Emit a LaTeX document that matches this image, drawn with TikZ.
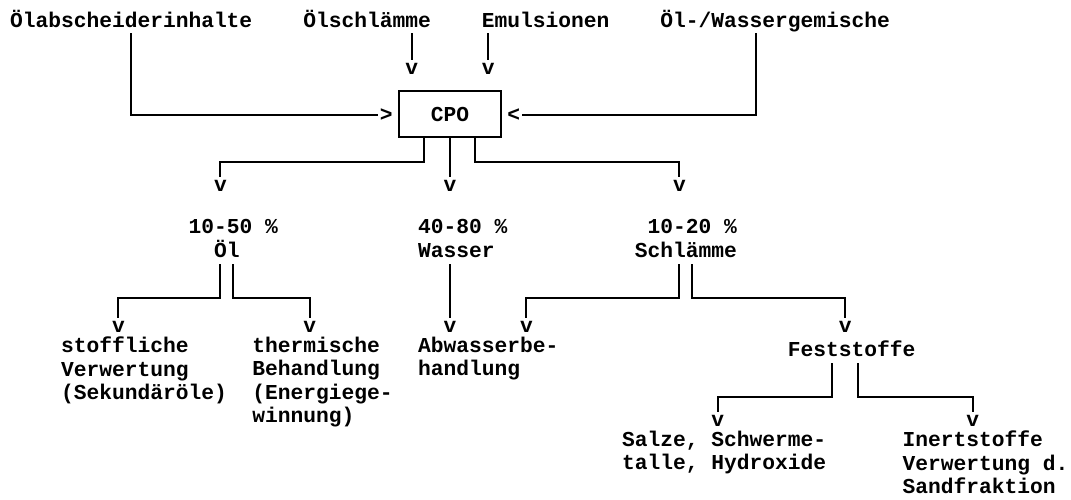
\documentclass[tikz,border=0pt]{standalone}
\usepackage{fontspec}
\newfontfamily\twfam{Liberation Mono}
\newcommand\twfont{\twfam\bfseries\fontsize{21.25pt}{23.5pt}\selectfont\frenchspacing}
\newcommand\myst{\rule{0pt}{19pt}}
\usetikzlibrary{calc}
\begin{document}
\begin{tikzpicture}[x=1pt,y=-1pt,
  txt/.style={font=\twfont, inner sep=0pt, outer sep=0pt, anchor=north west, align=left, execute at begin node=\myst},
  glyph/.style={font=\twfont, inner sep=0pt, outer sep=0pt, anchor=base},
  ln/.style={line width=1.9pt},
  toarr/.style={ln, shorten >=3pt}]
\useasboundingbox[fill=white] (0,0) rectangle (1071,499);

% top row
\node[txt] (ola) at (10,8) {Ölabscheiderinhalte};
\node[txt] (osl) at (303.25,8) {Ölschlämme};
\node[txt] (emu) at (481.75,8) {Emulsionen};
\node[txt] (owg) at (660.25,8) {Öl-/Wassergemische};

\node[glyph] (vosl) at (411.625,74) {v};
\node[glyph] (vemu) at (488.125,74) {v};
\node[glyph] (gt) at (386.125,121) {>};
\node[glyph] (lt) at (513.625,121) {<};
\node[draw, line width=1.9pt, font=\twfont, minimum width=102pt, minimum height=46pt, inner sep=0pt] (cpo) at (449.875,114) {CPO};

\draw[toarr] ($(osl.base west)+(108.375,6)$) -- (vosl.north);
\draw[toarr] ($(emu.base west)+(6.375,6)$) -- (vemu.north);
\draw[ln, shorten >=2pt] ($(ola.base west)+(121.125,6)$) |- (gt.west);
\draw[ln, shorten >=2pt] ($(owg.base west)+(95.625,6)$) |- (lt.east);

% CPO outputs
\node[glyph] (v1) at (220.375,191.5) {v};
\node[glyph] (v2) at (449.875,191.5) {v};
\node[glyph] (v3) at (679.375,191.5) {v};
\draw[toarr] ([xshift=-25.5pt]cpo.south) -- ++(0,24.25) -| (v1.north);
\draw[toarr] (cpo.south) -- (v2.north);
\draw[toarr] ([xshift=25.5pt]cpo.south) -- ++(0,24.25) -| (v3.north);

% fractions
\node[txt] (poel) at (188.5,219.5) {10-50 \%\\\hspace*{25.5pt}Öl};
\node[txt] (pwas) at (418,219.5) {40-80 \%\\Wasser};
\node[txt] (psch) at (634.75,219.5) {\hspace*{12.75pt}10-20 \%\\Schlämme};

\node[glyph] (v4) at (118.375,332.5) {v};
\node[glyph] (v5) at (309.625,332.5) {v};
\node[glyph] (v6) at (449.875,332.5) {v};
\node[glyph] (v7) at (526.375,332.5) {v};
\node[glyph] (v8) at (845.125,332.5) {v};
\draw[toarr] ($(poel.south west)+(31.875,7)$) -- ++(0,34) -| (v4.north);
\draw[toarr] ($(poel.south west)+(44.625,7)$) -- ++(0,34) -| (v5.north);
\draw[toarr] ($(pwas.south west)+(31.875,7)$) -- (v6.north);
\draw[toarr] ($(psch.south west)+(44.625,7)$) -- ++(0,34) -| (v7.north);
\draw[toarr] ($(psch.south west)+(57.375,7)$) -- ++(0,34) -| (v8.north);

% uses
\node[txt] (stoff) at (61,337) {stoffliche\\Verwertung\\(Sekundäröle)};
\node[txt] (therm) at (252.25,337) {thermische\\Behandlung\\(Energiege-\\winnung)};
\node[txt] (abw) at (418,337) {Abwasserbe-\\handlung};
\node[txt] (fest) at (787.75,337) {Feststoffe};

\node[glyph] (v9) at (717.625,426.5) {v};
\node[glyph] (v10) at (972.625,426.5) {v};
\draw[toarr] ($(fest.base west)+(44.625,7)$) -- ++(0,34) -| (v9.north);
\draw[toarr] ($(fest.base west)+(70.125,7)$) -- ++(0,34) -| (v10.north);

\node[txt] (salze) at (622,431) {Salze, Schwerme-\\talle, Hydroxide};
\node[txt] (inert) at (902.5,431) {Inertstoffe\\Verwertung d.\\Sandfraktion};
\end{tikzpicture}
\end{document}
